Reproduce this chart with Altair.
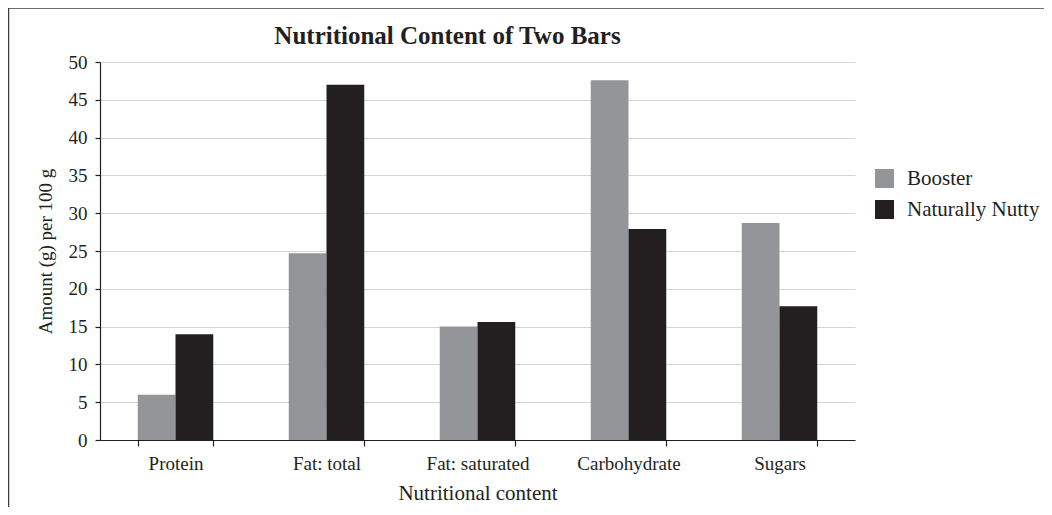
import altair as alt
import pandas as pd

categories = ["Protein", "Fat: total", "Fat: saturated", "Carbohydrate", "Sugars"]
products = ["Booster", "Naturally Nutty"]
booster = [6.0, 24.7, 15.0, 47.6, 28.7]
nutty = [14.0, 47.0, 15.6, 27.9, 17.7]
colors = ["#939598", "#231f20"]
y_ticks = [0, 5, 10, 15, 20, 25, 30, 35, 40, 45, 50]

rows = []
for c, b, n in zip(categories, booster, nutty):
    rows.append({"Nutrient": c, "Product": products[0], "Amount": b})
    rows.append({"Nutrient": c, "Product": products[1], "Amount": n})
df = pd.DataFrame(rows)

FONT = "Liberation Serif"
TXT = "#231f20"

bars = alt.Chart(df).mark_bar().encode(
    x=alt.X(
        "Nutrient:N",
        sort=categories,
        scale=alt.Scale(paddingInner=0.5, paddingOuter=0.25),
        axis=alt.Axis(
            title="Nutritional content",
            titleFontSize=21,
            labelAngle=0,
            tickBand="extent",
            tickSize=6,
            labelPadding=8,
            titlePadding=9,
            grid=False,
        ),
    ),
    xOffset=alt.XOffset("Product:N", sort=products),
    y=alt.Y(
        "Amount:Q",
        scale=alt.Scale(domain=[0, 50], nice=False),
        axis=alt.Axis(
            title="Amount (g) per 100 g",
            titleFontSize=19,
            values=y_ticks,
            tickSize=5,
            labelPadding=8,
            titlePadding=13,
            grid=True,
            gridColor="#d4d4d4",
            gridWidth=1.2,
        ),
    ),
    color=alt.Color(
        "Product:N",
        sort=products,
        scale=alt.Scale(domain=products, range=colors),
        legend=alt.Legend(
            title=None,
            orient="none",
            legendX=774,
            legendY=106,
            symbolType="square",
            symbolSize=361,
            symbolStrokeWidth=0,
            symbolOpacity=1,
            labelFontSize=21,
            labelFont=FONT,
            labelColor=TXT,
            labelOffset=12,
            rowPadding=9,
        ),
    ),
)

frame_df = pd.DataFrame({"k": [0]})
left_line = alt.Chart(frame_df).mark_rule(color="#3d3d3d", strokeWidth=1.5).encode(
    x=alt.value(-91.5), x2=alt.value(-91.5), y=alt.value(-54), y2=alt.value(460)
)
top_line = alt.Chart(frame_df).mark_rule(color="#3d3d3d", strokeWidth=1.5).encode(
    x=alt.value(-91.5), x2=alt.value(950), y=alt.value(-54), y2=alt.value(-54)
)

chart = alt.layer(bars, left_line, top_line).properties(
    width=755,
    height=378,
    autosize=alt.AutoSizeParams(type="none"),
    padding={"left": 92, "top": 54, "right": 189, "bottom": 67},
    title=alt.TitleParams(
        "Nutritional Content of Two Bars",
        font=FONT,
        fontSize=25,
        fontWeight="bold",
        color=TXT,
        anchor="middle",
        dx=-30,
        offset=-42,
    ),
).configure_view(stroke=None).configure_axis(
    labelFont=FONT,
    titleFont=FONT,
    labelFontSize=19,
    titleFontWeight="normal",
    labelColor=TXT,
    titleColor=TXT,
    domainColor=TXT,
    tickColor=TXT,
    domainWidth=1.2,
    tickWidth=1.2,
)

chart.save("out.html", embed_options={"renderer": "svg", "actions": False})
